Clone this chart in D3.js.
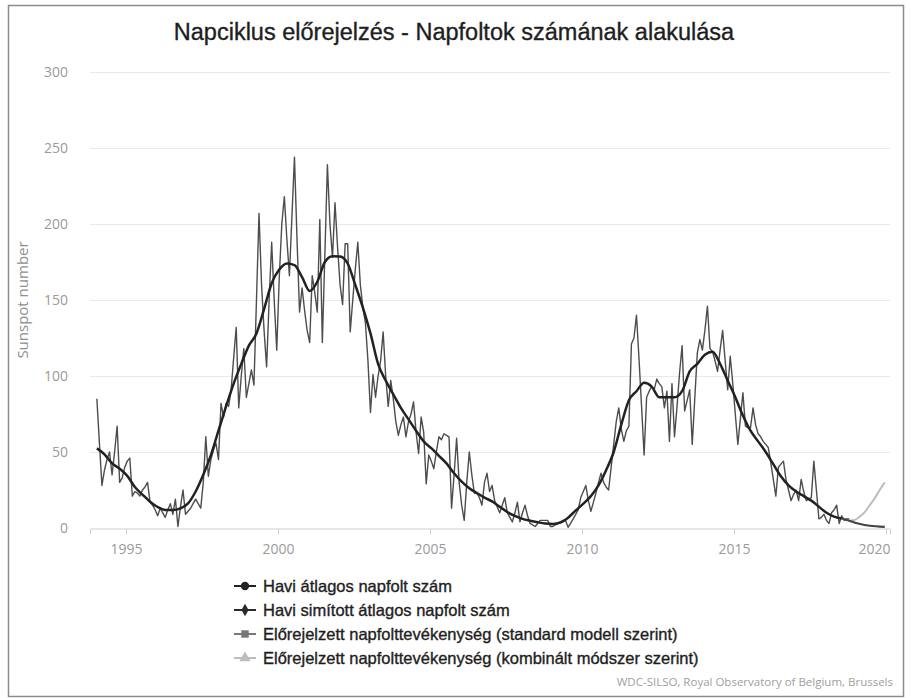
<!DOCTYPE html>
<html lang="hu">
<head>
    <meta charset="UTF-8">
    <title>Napciklus előrejelzés</title>
    <script src="https://d3js.org/d3.v7.min.js"></script>
    <style>
        body { margin: 0; background: #fff; }
        .grid line { stroke: #e9e9e9; stroke-width: 1px; }
        .axis-label { font: 14px "Open Sans", sans-serif; fill: #9a9a9a; }
        .title { font: 23.5px "Liberation Sans", Arial, sans-serif; fill: #1e1e1e; stroke: #1e1e1e; stroke-width: 0.35px; }
        .legend text { font: 16.5px "Liberation Sans", Arial, sans-serif; fill: #1e1e1e; stroke: #1e1e1e; stroke-width: 0.35px; }
        .credits { font: 11.5px "Open Sans", sans-serif; fill: #a0a0a0; }
    </style>
</head>
<body>
    <div id="chart"></div>

    <script>
        // havi átlagos napfoltszám, 1994 januártól (egy érték havonta)
        const firstYear = 1994;
        const monthlyValues = [
            85, 56, 28, 38, 45, 50, 35, 50, 67, 30, 33, 40,
            44, 46, 21, 24, 23, 21, 25, 27, 30, 17, 15, 12,
            8, 13, 10, 7, 12, 16, 9, 19, 1, 14, 25, 9,
            11, 13, 16, 19, 16, 13, 30, 60, 34, 45, 51, 56,
            45, 82, 73, 82, 80, 91, 112, 132, 79, 100, 118, 86,
            95, 104, 94, 150, 207, 160, 130, 106, 150, 188, 150, 117,
            165, 200, 218, 190, 166, 205, 244, 190, 142, 158, 143, 130,
            122, 166, 155, 142, 203, 122, 180, 239, 200, 178, 214, 185,
            160, 147, 187, 187, 129, 150, 170, 188, 160, 145, 135, 110,
            76, 101, 86, 100, 110, 129, 100, 80, 97, 85, 70, 61,
            68, 73, 60, 70, 75, 83, 63, 49, 73, 63, 29, 48,
            44, 39, 50, 60, 58, 62, 61, 60, 13, 35, 59, 30,
            15, 5, 30, 50, 35, 23, 23, 20, 15, 30, 36, 24,
            28, 18, 14, 10, 15, 20, 10, 7, 4, 10, 17, 4,
            10, 15, 8, 3, 2, 1, 3, 5, 5, 5, 5, 1,
            1, 2, 3, 4, 5, 5, 0.5, 3, 6, 9, 12, 20,
            24, 28, 18, 11, 17, 23, 30, 36, 30, 27, 25, 40,
            55, 70, 79, 65, 57, 64, 67, 121, 125, 140, 111, 80,
            48, 86, 90, 93, 91, 98, 95, 93, 79, 90, 57, 95,
            60, 80, 102, 120, 77, 84, 91, 55, 85, 115, 124, 117,
            130, 146, 118, 116, 110, 103, 117, 130, 110, 91, 113, 95,
            75, 55, 72, 89, 67, 66, 66, 79, 68, 62, 60, 57,
            55, 53, 43, 32, 21, 40, 42, 44, 32, 25, 18, 22,
            25, 18, 32, 24, 18, 19, 20, 44, 25, 6, 7, 9,
            5, 3, 10, 12, 15, 3, 8, 5, 6, 6
        ];

        // simított érték minden harmadik hónapra, 1994 januártól
        const smoothedStep = 3;
        const smoothedValues = [
            52.4, 48.5, 42.6, 39, 34.3, 27, 22, 17.3, 13.8, 11.9, 11.8, 12.9,
            16.2, 24, 35, 48, 64, 80, 95, 108, 120, 128, 144, 161,
            170, 174, 173, 165, 156, 162, 175, 178.8, 178.7, 174, 160, 145,
            128, 108, 97, 88, 79, 71.5, 64, 57, 52.5, 47.5, 42.5, 36,
            30.5, 26.2, 23, 20, 17.5, 14, 10.5, 8, 6, 4.8, 3.8, 3,
            2.7, 3.6, 6.8, 11.5, 16, 21, 28, 38, 50, 68, 84, 90,
            95.5, 93, 86, 86, 86, 90, 103, 108, 114, 116, 108, 97,
            86, 74, 64, 57, 50, 42, 34, 28, 24, 21, 18, 14,
            10, 7.5, 6.3
        ];

        const standardMonths = [294, 297, 300, 303, 306, 309, 311];
        const standardValues = [6.3, 4.8, 3.1, 2, 1.3, 0.9, 0.8];

        const combinedMonths = [297, 299, 301, 303, 305, 307, 309, 311];
        const combinedValues = [4.8, 5.2, 7.3, 10.3, 14.8, 19.5, 25, 30];

        const yTicks = [0, 50, 100, 150, 200, 250, 300];
        const xTicks = [1995, 2000, 2005, 2010, 2015, 2020];

        const seriesNames = [
            "Havi átlagos napfolt szám",
            "Havi simított átlagos napfolt szám",
            "Előrejelzett napfolttevékenység (standard modell szerint)",
            "Előrejelzett napfolttevékenység (kombinált módszer szerint)"
        ];
        const seriesColors = ["#4d4d4d", "#222222", "#444444", "#bdbdbd"];
        const legendColors = ["#222222", "#2a2a2a", "#777777", "#bdbdbd"];
        const legendSymbols = [d3.symbolCircle, d3.symbolDiamond, d3.symbolSquare, d3.symbolTriangle];

        const width = 911, height = 698;
        const monthToYear = m => firstYear + (m + 0.5) / 12;

        const x = d3.scaleLinear().domain([1993.816, 2020.13]).range([90, 890]);
        const y = d3.scaleLinear().domain([0, 300]).range([528, 72]);

        const svg = d3.select("#chart")
            .append("svg")
            .attr("width", width)
            .attr("height", height);

        svg.append("rect")
            .attr("x", 8.5).attr("y", 5.5)
            .attr("width", 895).attr("height", 691)
            .attr("fill", "#fff")
            .attr("stroke", "#8c8c8c")
            .attr("stroke-width", 1.5);

        svg.append("text")
            .attr("class", "title")
            .attr("x", 454).attr("y", 40)
            .attr("text-anchor", "middle")
            .text("Napciklus előrejelzés - Napfoltok számának alakulása");

        // rácsvonalak
        svg.append("g")
            .attr("class", "grid")
            .selectAll("line")
            .data(yTicks.filter(d => d > 0))
            .enter().append("line")
            .attr("x1", 90).attr("x2", 890)
            .attr("y1", d => Math.round(y(d)) + 0.5)
            .attr("y2", d => Math.round(y(d)) + 0.5);

        // x tengely
        const xAxis = svg.append("g")
            .attr("transform", `translate(0,${Math.round(y(0)) + 0.5})`)
            .call(d3.axisBottom(x).tickValues(xTicks).tickSize(6).tickFormat(d3.format("d")));
        xAxis.select(".domain").attr("stroke", "#cfcfcf");
        xAxis.selectAll(".tick line").attr("stroke", "#cfcfcf");
        xAxis.selectAll(".tick text")
            .attr("class", "axis-label")
            .attr("dy", null)
            .attr("y", 25)
            .attr("text-anchor", d => d === 2020 ? "end" : "middle")
            .attr("x", d => d === 2020 ? 890 - x(2020) : 0);

        // y tengely feliratai
        const yAxis = svg.append("g")
            .attr("transform", "translate(68,0)")
            .call(d3.axisLeft(y).tickValues(yTicks).tickSize(0).tickPadding(0));
        yAxis.select(".domain").remove();
        yAxis.selectAll(".tick text").attr("class", "axis-label").attr("x", 0);

        svg.append("text")
            .attr("class", "axis-label")
            .attr("transform", `translate(28,${y(150)}) rotate(-90)`)
            .attr("text-anchor", "middle")
            .style("font-size", "15px")
            .style("fill", "#8f8f8f")
            .text("Sunspot number");

        const line = d3.line()
            .x(d => x(d[0]))
            .y(d => y(d[1]));

        const monthlyPoints = monthlyValues.map((v, i) => [monthToYear(i), v]);
        const smoothedPoints = smoothedValues.map((v, i) => [monthToYear(i * smoothedStep), v]);
        const standardPoints = standardMonths.map((m, i) => [monthToYear(m), standardValues[i]]);
        const combinedPoints = combinedMonths.map((m, i) => [monthToYear(m), combinedValues[i]]);

        const smoothLine = d3.line()
            .x(d => x(d[0]))
            .y(d => y(d[1]))
            .curve(d3.curveMonotoneX);

        svg.append("path")
            .datum(combinedPoints)
            .attr("fill", "none")
            .attr("stroke", seriesColors[3])
            .attr("stroke-width", 2)
            .attr("d", smoothLine);

        svg.append("path")
            .datum(monthlyPoints)
            .attr("fill", "none")
            .attr("stroke", seriesColors[0])
            .attr("stroke-width", 1.4)
            .attr("stroke-linejoin", "round")
            .attr("d", line);

        svg.append("path")
            .datum(standardPoints)
            .attr("fill", "none")
            .attr("stroke", seriesColors[2])
            .attr("stroke-width", 2.2)
            .attr("d", smoothLine);

        svg.append("path")
            .datum(smoothedPoints)
            .attr("fill", "none")
            .attr("stroke", seriesColors[1])
            .attr("stroke-width", 2.5)
            .attr("stroke-linejoin", "round")
            .attr("d", smoothLine);

        // jelmagyarázat
        const legend = svg.append("g").attr("class", "legend");
        const item = legend.selectAll("g")
            .data(seriesNames)
            .enter().append("g")
            .attr("transform", (d, i) => `translate(245,${586 + i * 24})`);

        item.append("line")
            .attr("x1", -11).attr("x2", 11)
            .attr("stroke", (d, i) => legendColors[i])
            .attr("stroke-width", 2);
        item.append("path")
            .attr("d", (d, i) => d3.symbol().type(legendSymbols[i]).size(i === 1 ? 45 : 55)())
            .attr("fill", (d, i) => legendColors[i]);
        item.append("text")
            .attr("x", 18)
            .attr("dy", "0.36em")
            .text(d => d);

        svg.append("text")
            .attr("class", "credits")
            .attr("x", 893).attr("y", 686)
            .attr("text-anchor", "end")
            .text("WDC-SILSO, Royal Observatory of Belgium, Brussels");
    </script>
</body>
</html>
